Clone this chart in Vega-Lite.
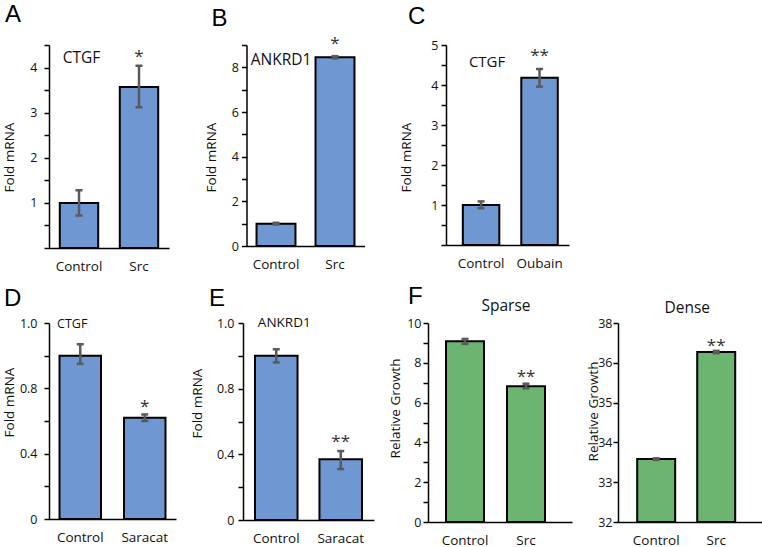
{
  "$schema": "https://vega.github.io/schema/vega-lite/v6.json",
  "padding": {"left": 2, "top": 3, "right": 0, "bottom": 0},
  "background": "white",
  "config": {
    "font": "Open Sans",
    "view": {"stroke": null},
    "title": {"font": "Liberation Sans", "fontSize": 24, "fontWeight": "normal", "color": "#000", "baseline": "alphabetic", "anchor": "start", "frame": "group"},
    "axis": {"labelFont": "Open Sans", "titleFont": "Open Sans", "labelFontSize": 12.5, "titleFontSize": 13.5, "titleFontWeight": "normal", "labelColor": "#111", "titleColor": "#111", "domainColor": "#000", "tickColor": "#000", "domainWidth": 1.5, "tickWidth": 1.5, "tickSize": 5, "grid": false, "labelOverlap": false},
    "axisY": {"tickCount": 30},
    "axisX": {"labelFontSize": 13.5, "labelAngle": 0, "ticks": false, "tickSize": 0, "labelPadding": 11, "title": null}
  },
  "datasets": {
    "bars": [
      {"panel": "A", "cond": "Control", "value": 1.0, "lo": 0.72, "hi": 1.28},
      {"panel": "A", "cond": "Src", "value": 3.57, "lo": 3.12, "hi": 4.04},
      {"panel": "B", "cond": "Control", "value": 1.0, "lo": 0.96, "hi": 1.04},
      {"panel": "B", "cond": "Src", "value": 8.45, "lo": 8.4, "hi": 8.5},
      {"panel": "C", "cond": "Control", "value": 1.0, "lo": 0.92, "hi": 1.09},
      {"panel": "C", "cond": "Oubain", "value": 4.18, "lo": 3.96, "hi": 4.4},
      {"panel": "D", "cond": "Control", "value": 1.0, "lo": 0.95, "hi": 1.07},
      {"panel": "D", "cond": "Saracat", "value": 0.62, "lo": 0.6, "hi": 0.64},
      {"panel": "E", "cond": "Control", "value": 1.0, "lo": 0.96, "hi": 1.04},
      {"panel": "E", "cond": "Saracat", "value": 0.37, "lo": 0.31, "hi": 0.42},
      {"panel": "Sparse", "cond": "Control", "value": 9.08, "lo": 8.95, "hi": 9.2},
      {"panel": "Sparse", "cond": "Src", "value": 6.82, "lo": 6.72, "hi": 6.95},
      {"panel": "Dense", "cond": "Control", "value": 33.58, "lo": 33.56, "hi": 33.6},
      {"panel": "Dense", "cond": "Src", "value": 36.27, "lo": 36.24, "hi": 36.3}
    ],
    "notes": [
      {"panel": "A", "kind": "star", "cond": "Src", "y": 4.23, "label": "*"},
      {"panel": "A", "kind": "gene", "cond": "Control", "y": 4.21, "label": "CTGF"},
      {"panel": "B", "kind": "star", "cond": "Src", "y": 9.05, "label": "*"},
      {"panel": "B", "kind": "gene", "cond": "Control", "y": 8.33, "label": "ANKRD1"},
      {"panel": "C", "kind": "star", "cond": "Oubain", "y": 4.72, "label": "**"},
      {"panel": "C", "kind": "gene", "cond": "Control", "y": 4.58, "label": "CTGF"},
      {"panel": "D", "kind": "star", "cond": "Saracat", "y": 0.686, "label": "*"},
      {"panel": "D", "kind": "gene", "cond": "Control", "y": 1.194, "label": "CTGF"},
      {"panel": "E", "kind": "star", "cond": "Saracat", "y": 0.475, "label": "**"},
      {"panel": "E", "kind": "gene", "cond": "Control", "y": 1.2, "label": "ANKRD1"},
      {"panel": "Sparse", "kind": "star", "cond": "Src", "y": 7.29, "label": "**"},
      {"panel": "Sparse", "kind": "head", "cond": "Control", "y": 10.85, "label": "Sparse"},
      {"panel": "Dense", "kind": "star", "cond": "Src", "y": 36.42, "label": "**"},
      {"panel": "Dense", "kind": "head", "cond": "Control", "y": 37.38, "label": "Dense"}
    ]
  },
  "spacing": 11,
  "vconcat": [
    {
      "spacing": 34.5,
      "hconcat": [
        {
          "width": 120, "height": 203,
          "title": {"text": "A", "dx": -44, "offset": 12},
          "encoding": {"x": {"field": "cond", "type": "nominal", "sort": ["Control", "Src"], "scale": {"paddingInner": 0.36, "paddingOuter": 0.18}}},
          "layer": [
            {"data": {"name": "bars"}, "transform": [{"filter": "datum.panel === 'A'"}],
             "mark": {"type": "bar", "fill": "#6f98d3", "stroke": "#000", "strokeWidth": 2},
             "encoding": {"y": {"field": "value", "type": "quantitative", "title": "Fold mRNA",
               "scale": {"domain": [0, 4.5], "nice": false},
               "axis": {"values": [0, 0.5, 1, 1.5, 2, 2.5, 3, 3.5, 4, 4.5], "tickCount": 30, "labelExpr": "datum.value >= 1 && datum.value % 1 === 0 ? format(datum.value, 'd') : ''", "labelOverlap": false, "labelPadding": 7, "minExtent": 20, "maxExtent": 20, "titlePadding": 12.5, "titleY": 112}}}},
            {"data": {"name": "bars"}, "transform": [{"filter": "datum.panel === 'A'"}],
             "mark": {"type": "rule", "stroke": "#5a5a5a", "strokeWidth": 2.5},
             "encoding": {"y": {"field": "lo", "type": "quantitative", "title": "Fold mRNA"}, "y2": {"field": "hi"}}},
            {"data": {"name": "bars"}, "transform": [{"filter": "datum.panel === 'A'"}],
             "mark": {"type": "tick", "color": "#5a5a5a", "thickness": 2.5, "size": 7, "opacity": 1},
             "encoding": {"y": {"field": "lo", "type": "quantitative", "title": "Fold mRNA"}}},
            {"data": {"name": "bars"}, "transform": [{"filter": "datum.panel === 'A'"}],
             "mark": {"type": "tick", "color": "#5a5a5a", "thickness": 2.5, "size": 7, "opacity": 1},
             "encoding": {"y": {"field": "hi", "type": "quantitative", "title": "Fold mRNA"}}},
            {"data": {"name": "notes"}, "transform": [{"filter": "datum.panel === 'A' && datum.kind === 'star'"}],
             "mark": {"type": "text", "fontSize": 17, "baseline": "middle", "color": "#333"},
             "encoding": {"y": {"field": "y", "type": "quantitative", "title": "Fold mRNA"}, "text": {"field": "label"}}},
            {"data": {"name": "notes"}, "transform": [{"filter": "datum.panel === 'A' && datum.kind === 'gene'"}],
             "mark": {"type": "text", "fontSize": 15.5, "baseline": "middle", "color": "#111", "dx": 2.5},
             "encoding": {"y": {"field": "y", "type": "quantitative", "title": "Fold mRNA"}, "text": {"field": "label"}}}
          ]
        },
        {
          "width": 118, "height": 201,
          "title": {"text": "B", "dx": -35, "offset": 4},
          "encoding": {"x": {"field": "cond", "type": "nominal", "sort": ["Control", "Src"], "scale": {"paddingInner": 0.34, "paddingOuter": 0.17}}},
          "layer": [
            {"data": {"name": "bars"}, "transform": [{"filter": "datum.panel === 'B'"}],
             "mark": {"type": "bar", "fill": "#6f98d3", "stroke": "#000", "strokeWidth": 2},
             "encoding": {"y": {"field": "value", "type": "quantitative", "title": "Fold mRNA",
               "scale": {"domain": [0, 9], "nice": false},
               "axis": {"values": [0, 1, 2, 3, 4, 5, 6, 7, 8, 9], "tickCount": 30, "labelExpr": "datum.value % 2 === 0 ? format(datum.value, 'd') : ''", "labelOverlap": false, "labelPadding": 3, "minExtent": 16, "maxExtent": 16, "titlePadding": 12.5, "titleY": 112}}}},
            {"data": {"name": "bars"}, "transform": [{"filter": "datum.panel === 'B'"}],
             "mark": {"type": "rule", "stroke": "#5a5a5a", "strokeWidth": 2.5},
             "encoding": {"y": {"field": "lo", "type": "quantitative", "title": "Fold mRNA"}, "y2": {"field": "hi"}}},
            {"data": {"name": "bars"}, "transform": [{"filter": "datum.panel === 'B'"}],
             "mark": {"type": "tick", "color": "#5a5a5a", "thickness": 2.5, "size": 7, "opacity": 1},
             "encoding": {"y": {"field": "lo", "type": "quantitative", "title": "Fold mRNA"}}},
            {"data": {"name": "bars"}, "transform": [{"filter": "datum.panel === 'B'"}],
             "mark": {"type": "tick", "color": "#5a5a5a", "thickness": 2.5, "size": 7, "opacity": 1},
             "encoding": {"y": {"field": "hi", "type": "quantitative", "title": "Fold mRNA"}}},
            {"data": {"name": "notes"}, "transform": [{"filter": "datum.panel === 'B' && datum.kind === 'star'"}],
             "mark": {"type": "text", "fontSize": 17, "baseline": "middle", "color": "#333"},
             "encoding": {"y": {"field": "y", "type": "quantitative", "title": "Fold mRNA"}, "text": {"field": "label"}}},
            {"data": {"name": "notes"}, "transform": [{"filter": "datum.panel === 'B' && datum.kind === 'gene'"}],
             "mark": {"type": "text", "fontSize": 15.5, "baseline": "middle", "color": "#111", "dx": 5},
             "encoding": {"y": {"field": "y", "type": "quantitative", "title": "Fold mRNA"}, "text": {"field": "label"}}}
          ]
        },
        {
          "width": 123, "height": 200,
          "title": {"text": "C", "dx": -38, "offset": 10},
          "encoding": {"x": {"field": "cond", "type": "nominal", "sort": ["Control", "Oubain"], "scale": {"paddingInner": 0.376, "paddingOuter": 0.24, "align": 0.6}}},
          "layer": [
            {"data": {"name": "bars"}, "transform": [{"filter": "datum.panel === 'C'"}],
             "mark": {"type": "bar", "fill": "#6f98d3", "stroke": "#000", "strokeWidth": 2},
             "encoding": {"y": {"field": "value", "type": "quantitative", "title": "Fold mRNA",
               "scale": {"domain": [0, 5], "nice": false},
               "axis": {"values": [0, 0.5, 1, 1.5, 2, 2.5, 3, 3.5, 4, 4.5, 5], "tickCount": 30, "labelExpr": "datum.value >= 1 && datum.value % 1 === 0 ? format(datum.value, 'd') : ''", "labelOverlap": false, "labelPadding": 3, "minExtent": 16, "maxExtent": 16, "titlePadding": 16.5, "titleY": 112}}}},
            {"data": {"name": "bars"}, "transform": [{"filter": "datum.panel === 'C'"}],
             "mark": {"type": "rule", "stroke": "#5a5a5a", "strokeWidth": 2.5},
             "encoding": {"y": {"field": "lo", "type": "quantitative", "title": "Fold mRNA"}, "y2": {"field": "hi"}}},
            {"data": {"name": "bars"}, "transform": [{"filter": "datum.panel === 'C'"}],
             "mark": {"type": "tick", "color": "#5a5a5a", "thickness": 2.5, "size": 7, "opacity": 1},
             "encoding": {"y": {"field": "lo", "type": "quantitative", "title": "Fold mRNA"}}},
            {"data": {"name": "bars"}, "transform": [{"filter": "datum.panel === 'C'"}],
             "mark": {"type": "tick", "color": "#5a5a5a", "thickness": 2.5, "size": 7, "opacity": 1},
             "encoding": {"y": {"field": "hi", "type": "quantitative", "title": "Fold mRNA"}}},
            {"data": {"name": "notes"}, "transform": [{"filter": "datum.panel === 'C' && datum.kind === 'star'"}],
             "mark": {"type": "text", "fontSize": 17, "baseline": "middle", "color": "#333"},
             "encoding": {"y": {"field": "y", "type": "quantitative", "title": "Fold mRNA"}, "text": {"field": "label"}}},
            {"data": {"name": "notes"}, "transform": [{"filter": "datum.panel === 'C' && datum.kind === 'gene'"}],
             "mark": {"type": "text", "fontSize": 15, "baseline": "middle", "color": "#111", "dx": 6},
             "encoding": {"y": {"field": "y", "type": "quantitative", "title": "Fold mRNA"}, "text": {"field": "label"}}}
          ]
        }
      ]
    },
    {
      "spacing": 14,
      "hconcat": [
        {
          "width": 127, "height": 196,
          "title": {"text": "D", "dx": -45, "offset": 6},
          "encoding": {"x": {"field": "cond", "type": "nominal", "sort": ["Control", "Saracat"], "scale": {"paddingInner": 0.357, "paddingOuter": 0.163}}},
          "layer": [
            {"data": {"name": "bars"}, "transform": [{"filter": "datum.panel === 'D'"}],
             "mark": {"type": "bar", "fill": "#6f98d3", "stroke": "#000", "strokeWidth": 2},
             "encoding": {"y": {"field": "value", "type": "quantitative", "title": "Fold mRNA",
               "scale": {"domain": [0, 1.2], "nice": false},
               "axis": {"values": [0, 0.2, 0.4, 0.6, 0.8, 1.0, 1.2], "tickCount": 30, "labelExpr": "datum.value === 0 ? '0' : abs(datum.value - 0.4) < 0.01 ? '0.4' : abs(datum.value - 0.8) < 0.01 ? '0.8' : datum.value > 1.1 ? '1.0' : ''", "labelOverlap": false, "labelPadding": 7, "minExtent": 30, "maxExtent": 30, "titlePadding": 2.5, "titleY": 79}}}},
            {"data": {"name": "bars"}, "transform": [{"filter": "datum.panel === 'D'"}],
             "mark": {"type": "rule", "stroke": "#5a5a5a", "strokeWidth": 2.5},
             "encoding": {"y": {"field": "lo", "type": "quantitative", "title": "Fold mRNA"}, "y2": {"field": "hi"}}},
            {"data": {"name": "bars"}, "transform": [{"filter": "datum.panel === 'D'"}],
             "mark": {"type": "tick", "color": "#5a5a5a", "thickness": 2.5, "size": 7, "opacity": 1},
             "encoding": {"y": {"field": "lo", "type": "quantitative", "title": "Fold mRNA"}}},
            {"data": {"name": "bars"}, "transform": [{"filter": "datum.panel === 'D'"}],
             "mark": {"type": "tick", "color": "#5a5a5a", "thickness": 2.5, "size": 7, "opacity": 1},
             "encoding": {"y": {"field": "hi", "type": "quantitative", "title": "Fold mRNA"}}},
            {"data": {"name": "notes"}, "transform": [{"filter": "datum.panel === 'D' && datum.kind === 'star'"}],
             "mark": {"type": "text", "fontSize": 17, "baseline": "middle", "color": "#333"},
             "encoding": {"y": {"field": "y", "type": "quantitative", "title": "Fold mRNA"}, "text": {"field": "label"}}},
            {"data": {"name": "notes"}, "transform": [{"filter": "datum.panel === 'D' && datum.kind === 'gene'"}],
             "mark": {"type": "text", "fontSize": 12.5, "baseline": "middle", "color": "#111", "dx": -8},
             "encoding": {"y": {"field": "y", "type": "quantitative", "title": "Fold mRNA"}, "text": {"field": "label"}}}
          ]
        },
        {
          "width": 131, "height": 197,
          "title": {"text": "E", "dx": -34, "offset": 5.5},
          "encoding": {"x": {"field": "cond", "type": "nominal", "sort": ["Control", "Saracat"], "scale": {"paddingInner": 0.34, "paddingOuter": 0.186}}},
          "layer": [
            {"data": {"name": "bars"}, "transform": [{"filter": "datum.panel === 'E'"}],
             "mark": {"type": "bar", "fill": "#6f98d3", "stroke": "#000", "strokeWidth": 2},
             "encoding": {"y": {"field": "value", "type": "quantitative", "title": "Fold mRNA",
               "scale": {"domain": [0, 1.2], "nice": false},
               "axis": {"values": [0, 0.2, 0.4, 0.6, 0.8, 1.0, 1.2], "tickCount": 30, "labelExpr": "datum.value === 0 ? '0' : abs(datum.value - 0.4) < 0.01 ? '0.4' : abs(datum.value - 0.8) < 0.01 ? '0.8' : datum.value > 1.1 ? '1.0' : ''", "labelOverlap": false, "labelPadding": 4, "minExtent": 27, "maxExtent": 27, "titlePadding": 12, "titleY": 80}}}},
            {"data": {"name": "bars"}, "transform": [{"filter": "datum.panel === 'E'"}],
             "mark": {"type": "rule", "stroke": "#5a5a5a", "strokeWidth": 2.5},
             "encoding": {"y": {"field": "lo", "type": "quantitative", "title": "Fold mRNA"}, "y2": {"field": "hi"}}},
            {"data": {"name": "bars"}, "transform": [{"filter": "datum.panel === 'E'"}],
             "mark": {"type": "tick", "color": "#5a5a5a", "thickness": 2.5, "size": 7, "opacity": 1},
             "encoding": {"y": {"field": "lo", "type": "quantitative", "title": "Fold mRNA"}}},
            {"data": {"name": "bars"}, "transform": [{"filter": "datum.panel === 'E'"}],
             "mark": {"type": "tick", "color": "#5a5a5a", "thickness": 2.5, "size": 7, "opacity": 1},
             "encoding": {"y": {"field": "hi", "type": "quantitative", "title": "Fold mRNA"}}},
            {"data": {"name": "notes"}, "transform": [{"filter": "datum.panel === 'E' && datum.kind === 'star'"}],
             "mark": {"type": "text", "fontSize": 17, "baseline": "middle", "color": "#333"},
             "encoding": {"y": {"field": "y", "type": "quantitative", "title": "Fold mRNA"}, "text": {"field": "label"}}},
            {"data": {"name": "notes"}, "transform": [{"filter": "datum.panel === 'E' && datum.kind === 'gene'"}],
             "mark": {"type": "text", "fontSize": 13.5, "baseline": "middle", "color": "#111", "dx": 8},
             "encoding": {"y": {"field": "y", "type": "quantitative", "title": "Fold mRNA"}, "text": {"field": "label"}}}
          ]
        },
        {
          "width": 144, "height": 199,
          "title": {"text": "F", "dx": -20, "offset": -9.5},
          "encoding": {"x": {"field": "cond", "type": "nominal", "sort": ["Control", "Src"], "scale": {"paddingInner": 0.377, "paddingOuter": 0.369, "align": 0.4}}},
          "layer": [
            {"data": {"name": "bars"}, "transform": [{"filter": "datum.panel === 'Sparse'"}],
             "mark": {"type": "bar", "fill": "#6cb571", "stroke": "#000", "strokeWidth": 2},
             "encoding": {"y": {"field": "value", "type": "quantitative", "title": "Relative Growth",
               "scale": {"domain": [0, 10], "nice": false},
               "axis": {"values": [0, 1, 2, 3, 4, 5, 6, 7, 8, 9, 10], "tickCount": 30, "labelExpr": "datum.value % 2 === 0 ? format(datum.value, 'd') : ''", "labelOverlap": false, "labelPadding": 2, "minExtent": 22, "maxExtent": 22, "titlePadding": 3.5, "titleY": 85}}}},
            {"data": {"name": "bars"}, "transform": [{"filter": "datum.panel === 'Sparse'"}],
             "mark": {"type": "rule", "stroke": "#5a5a5a", "strokeWidth": 2.5},
             "encoding": {"y": {"field": "lo", "type": "quantitative", "title": "Relative Growth"}, "y2": {"field": "hi"}}},
            {"data": {"name": "bars"}, "transform": [{"filter": "datum.panel === 'Sparse'"}],
             "mark": {"type": "tick", "color": "#5a5a5a", "thickness": 2.5, "size": 7, "opacity": 1},
             "encoding": {"y": {"field": "lo", "type": "quantitative", "title": "Relative Growth"}}},
            {"data": {"name": "bars"}, "transform": [{"filter": "datum.panel === 'Sparse'"}],
             "mark": {"type": "tick", "color": "#5a5a5a", "thickness": 2.5, "size": 7, "opacity": 1},
             "encoding": {"y": {"field": "hi", "type": "quantitative", "title": "Relative Growth"}}},
            {"data": {"name": "notes"}, "transform": [{"filter": "datum.panel === 'Sparse' && datum.kind === 'star'"}],
             "mark": {"type": "text", "fontSize": 17, "baseline": "middle", "color": "#333"},
             "encoding": {"y": {"field": "y", "type": "quantitative", "title": "Relative Growth"}, "text": {"field": "label"}}},
            {"data": {"name": "notes"}, "transform": [{"filter": "datum.panel === 'Sparse' && datum.kind === 'head'"}],
             "mark": {"type": "text", "fontSize": 15.5, "baseline": "middle", "color": "#111", "dx": 41},
             "encoding": {"y": {"field": "y", "type": "quantitative", "title": "Relative Growth"}, "text": {"field": "label"}}}
          ]
        },
        {
          "width": 146, "height": 199,
          "encoding": {"x": {"field": "cond", "type": "nominal", "sort": ["Control", "Src"], "scale": {"paddingInner": 0.367, "paddingOuter": 0.4, "align": 0.4}}},
          "layer": [
            {"data": {"name": "bars"}, "transform": [{"filter": "datum.panel === 'Dense'"}],
             "mark": {"type": "bar", "fill": "#6cb571", "stroke": "#000", "strokeWidth": 2},
             "encoding": {"y": {"field": "value", "type": "quantitative", "title": "Relative Growth",
               "scale": {"domain": [32, 37], "nice": false, "zero": false},
               "axis": {"values": [32, 33, 34, 35, 36, 37], "tickCount": 30, "labelExpr": "datum.value === 37 ? '38' : format(datum.value, 'd')", "labelOverlap": false, "labelPadding": 1, "minExtent": 20, "maxExtent": 20, "titlePadding": -2.5, "titleY": 88}},
               "y2": {"datum": 32}}},
            {"data": {"name": "bars"}, "transform": [{"filter": "datum.panel === 'Dense'"}],
             "mark": {"type": "rule", "stroke": "#5a5a5a", "strokeWidth": 2.5},
             "encoding": {"y": {"field": "lo", "type": "quantitative", "title": "Relative Growth"}, "y2": {"field": "hi"}}},
            {"data": {"name": "bars"}, "transform": [{"filter": "datum.panel === 'Dense'"}],
             "mark": {"type": "tick", "color": "#5a5a5a", "thickness": 2.5, "size": 7, "opacity": 1},
             "encoding": {"y": {"field": "lo", "type": "quantitative", "title": "Relative Growth"}}},
            {"data": {"name": "bars"}, "transform": [{"filter": "datum.panel === 'Dense'"}],
             "mark": {"type": "tick", "color": "#5a5a5a", "thickness": 2.5, "size": 7, "opacity": 1},
             "encoding": {"y": {"field": "hi", "type": "quantitative", "title": "Relative Growth"}}},
            {"data": {"name": "notes"}, "transform": [{"filter": "datum.panel === 'Dense' && datum.kind === 'star'"}],
             "mark": {"type": "text", "fontSize": 17, "baseline": "middle", "color": "#333"},
             "encoding": {"y": {"field": "y", "type": "quantitative", "title": "Relative Growth"}, "text": {"field": "label"}}},
            {"data": {"name": "notes"}, "transform": [{"filter": "datum.panel === 'Dense' && datum.kind === 'head'"}],
             "mark": {"type": "text", "fontSize": 15.5, "baseline": "middle", "color": "#111", "dx": 31},
             "encoding": {"y": {"field": "y", "type": "quantitative", "title": "Relative Growth"}, "text": {"field": "label"}}}
          ]
        }
      ]
    }
  ]
}
